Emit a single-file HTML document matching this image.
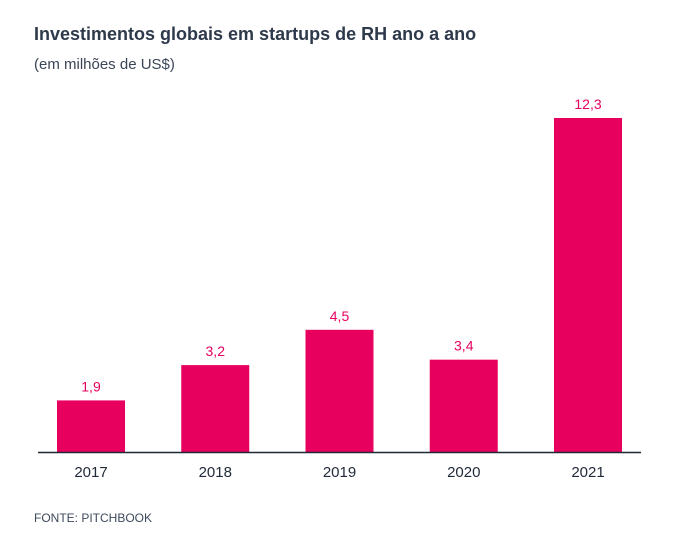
<!DOCTYPE html>
<html><head><meta charset="utf-8"><style>
body{margin:0;background:#fff;width:680px;height:548px;overflow:hidden;font-family:"Liberation Sans",sans-serif}
</style></head><body>
<svg width="680" height="548">
<text x="34" y="40" font-size="18" font-weight="bold" fill="#2e3a4b">Investimentos globais em startups de RH ano a ano</text>
<text x="34" y="69" font-size="15" fill="#3a4556">(em milhões de US$)</text>
<g id="bars"></g>
<line x1="38" y1="452.5" x2="641" y2="452.5" stroke="#1f2937" stroke-width="1.5"/>
<text x="34" y="522" font-size="12" fill="#3d4a5c">FONTE: PITCHBOOK</text>
</svg>
<script>
const categories=["2017","2018","2019","2020","2021"];
const values=[1.9,3.2,4.5,3.4,12.3];
const labels=["1,9","3,2","4,5","3,4","12,3"];
const ns="http://www.w3.org/2000/svg";
const g=document.getElementById("bars");
const base=452, scale=334/12.3;
const xc=i=>91+i*124.25;
const y=v=>base-v*scale;
categories.forEach((c,i)=>{
  const r=document.createElementNS(ns,"rect");
  r.setAttribute("x",xc(i)-34);r.setAttribute("width",68);
  r.setAttribute("y",y(values[i]));r.setAttribute("height",base-y(values[i]));
  r.setAttribute("fill","#e8005f");
  
  
  g.appendChild(r);
  const t=document.createElementNS(ns,"text");
  t.setAttribute("x",xc(i));t.setAttribute("y",y(values[i])-9);
  t.setAttribute("text-anchor","middle");t.setAttribute("font-size","14");t.setAttribute("fill","#e8005f");
  t.textContent=labels[i];
  
  
  g.appendChild(t);
  const l=document.createElementNS(ns,"text");
  l.setAttribute("x",xc(i));l.setAttribute("y",477);
  l.setAttribute("text-anchor","middle");l.setAttribute("font-size","15");l.setAttribute("fill","#1f2937");
  l.textContent=c;
  
  
  g.appendChild(l);
});
</script>
</body></html>
